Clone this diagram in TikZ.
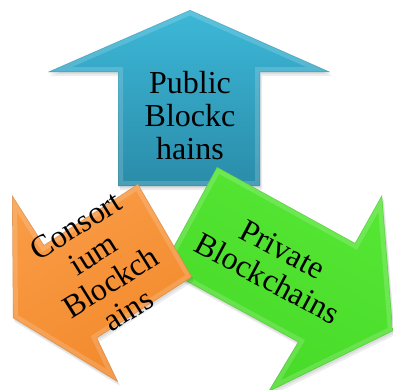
\documentclass[tikz,border=0pt]{standalone}
\usepackage{fontspec}
\setmainfont{Liberation Serif}
\begin{document}
\begin{tikzpicture}[x=1pt,y=-1pt,
  txt/.style={align=center, font=\rmfamily\fontsize{32}{33}\selectfont, text=black, inner sep=0pt},
  bevel/.style={line width=10pt, white, opacity=0.16, line join=miter},
  rim/.style={line width=1.2pt, black, opacity=0.10, line join=miter},
  shadowfill/.style={fill=black, opacity=0.07},
]
\definecolor{blueTop}{HTML}{3DB8D8}
\definecolor{blueBot}{HTML}{2A8CA9}
\definecolor{greenTop}{HTML}{56E735}
\definecolor{greenBot}{HTML}{47D927}
\definecolor{orangeTop}{HTML}{F99B45}
\definecolor{orangeBot}{HTML}{F2892B}
\useasboundingbox (0,0) rectangle (393,389);

% outlines of the three arrows
\newcommand\bluepath{(190,10) -- (330,72) -- (260,72) -- (260,186) -- (118,186) -- (118,72) -- (48,72) -- cycle}
\newcommand\greenpath{(217,167) -- (355,243) -- (382,195) -- (393,331) -- (268,392) -- (298,342) -- (162,268) -- cycle}
\newcommand\orangepath{(138,184) -- (44,245) -- (12,195) -- (13,318) -- (118,382) -- (97,338) -- (192,277) -- cycle}

% blue arrow (up)
\fill[shadowfill, shift={(2,4)}] \bluepath;
\fill[shadowfill, shift={(1,2)}] \bluepath;
\shade[top color=blueTop, bottom color=blueBot] \bluepath;
\begin{scope}
  \clip \bluepath;
  \draw[bevel] \bluepath;
  \draw[rim] \bluepath;
\end{scope}

% green arrow (down right)
\fill[shadowfill, shift={(2,4)}] \greenpath;
\fill[shadowfill, shift={(1,2)}] \greenpath;
\shade[top color=greenTop, bottom color=greenBot, shading angle=-28] \greenpath;
\begin{scope}
  \clip \greenpath;
  \draw[bevel] \greenpath;
  \draw[rim] \greenpath;
\end{scope}

% orange arrow (down left)
\fill[shadowfill, shift={(2,4)}] \orangepath;
\fill[shadowfill, shift={(1,2)}] \orangepath;
\shade[top color=orangeTop, bottom color=orangeBot, shading angle=30] \orangepath;
\begin{scope}
  \clip \orangepath;
  \draw[bevel] \orangepath;
  \draw[rim] \orangepath;
\end{scope}

% labels
\node[txt] (public) at (190,116) {Public\\Blockc\\hains};
\node[txt, rotate=-28] (private) at (275,264) {Private\\Blockchains};
\node[txt, rotate=32] (consortium) at (102,268) {Consort\\ium\\Blockch\\ains};
\end{tikzpicture}
\end{document}
